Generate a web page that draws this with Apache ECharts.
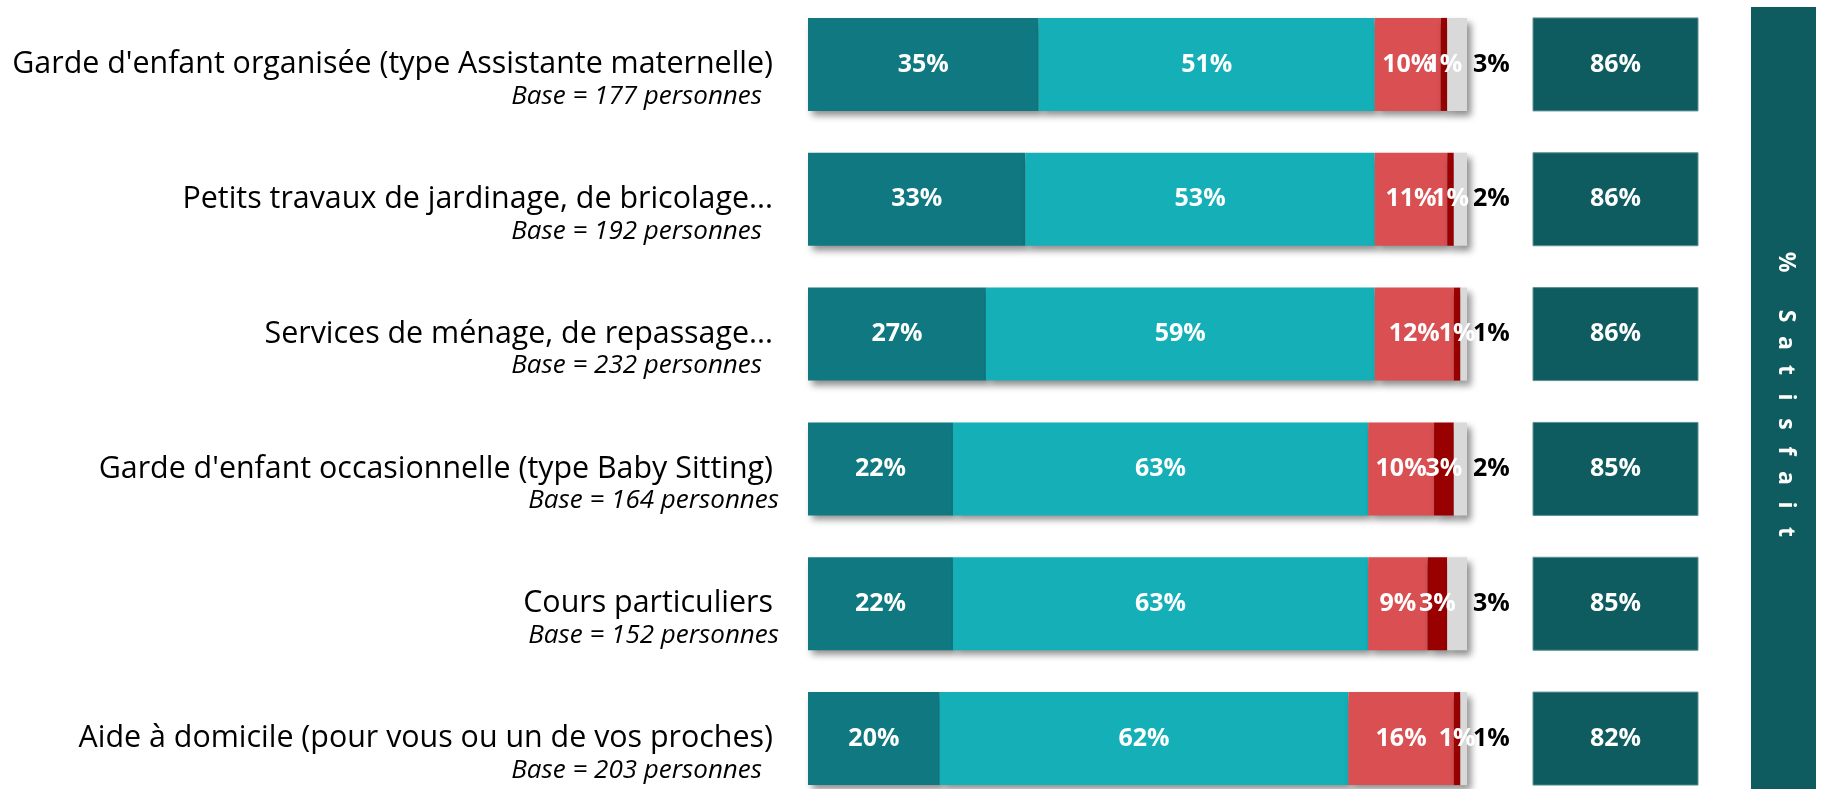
<!DOCTYPE html>
<html>
<head>
<meta charset="utf-8">
<script src="https://cdn.jsdelivr.net/npm/echarts/dist/echarts.min.js"></script>
<style>
  html, body { margin: 0; padding: 0; background: #fff; }
  #chart { width: 1825px; height: 789px; }
</style>
</head>
<body>
<div id="chart"></div>
<script>
  // services évalués (de haut en bas)
  var categories = [
    "Garde d'enfant organisée (type Assistante maternelle)",
    'Petits travaux de jardinage, de bricolage...',
    'Services de ménage, de repassage...',
    "Garde d'enfant occasionnelle (type Baby Sitting)",
    'Cours particuliers',
    'Aide à domicile (pour vous ou un de vos proches)'
  ]
  var bases = [177, 192, 232, 164, 152, 203]

  var tresSatisfait = [35, 33, 27, 22, 22, 20]
  var plutotSatisfait = [51, 53, 59, 63, 63, 62]
  var plutotPasSatisfait = [10, 11, 12, 10, 9, 16]
  var pasDuToutSatisfait = [1, 1, 1, 3, 3, 1]
  var nsp = [3, 2, 1, 2, 3, 1]
  var satisfait = [86, 86, 86, 85, 85, 82]

  // the "Base" line sits a bit further right on two rows
  var baseStyle = ['b', 'b', 'b', 'c', 'c', 'b']

  var FONT = '"Open Sans", "Noto Sans", sans-serif'
  var BAR_H = 93
  var shadow = {
    shadowBlur: 7,
    shadowColor: 'rgba(0,0,0,0.45)',
    shadowOffsetX: 4,
    shadowOffsetY: 5
  }

  function segment(name, data, color, labelColor, position) {
    return {
      name: name,
      type: 'bar',
      stack: 'total',
      barWidth: BAR_H,
      data: data,
      itemStyle: Object.assign({ color: color }, shadow),
      label: {
        show: true,
        position: position || 'inside',
        distance: 6,
        formatter: '{c}%',
        color: labelColor,
        fontFamily: FONT,
        fontWeight: 'bold',
        fontSize: 25
      }
    }
  }

  function renderBox(params, api) {
    var cs = params.coordSys
    var cy = api.coord([0, api.value(1)])[1]
    return {
      type: 'rect',
      shape: { x: cs.x, y: cy - BAR_H / 2, width: cs.width, height: BAR_H },
      style: { fill: '#0e5c5f', stroke: '#5e9194', lineWidth: 1 },
      textContent: {
        style: {
          text: api.value(0) + '%',
          fill: '#fff',
          font: 'bold 25px ' + FONT
        }
      },
      textConfig: { position: 'inside' }
    }
  }

  var chart = echarts.init(document.getElementById('chart'), null, { renderer: 'canvas' })

  var letters = ['%', ' ', 'S', 'a', 't', 'i', 's', 'f', 'a', 'i', 't']

  chart.setOption({
    backgroundColor: '#fff',
    animation: false,
    grid: [
      { left: 808, width: 659, top: -3, height: 809, outerBoundsMode: 'none', containLabel: false },
      { left: 1533, width: 165, top: -3, height: 809, outerBoundsMode: 'none', containLabel: false }
    ],
    xAxis: [
      { gridIndex: 0, type: 'value', min: 0, max: 100, show: false },
      { gridIndex: 1, type: 'value', min: 0, max: 100, show: false }
    ],
    yAxis: [
      {
        gridIndex: 0,
        type: 'category',
        inverse: true,
        data: categories,
        axisLine: { show: false },
        axisTick: { show: false },
        axisLabel: {
          margin: 29,
          align: 'right',
          padding: [28, 0, 0, 0],
          formatter: function (value, index) {
            return '{a|' + value + '}\n{' + baseStyle[index] + '|Base = ' + bases[index] + ' personnes}'
          },
          rich: {
            a: { fontFamily: FONT, fontSize: 30.4, color: '#000', lineHeight: 36, padding: [0, 6, 0, 0] },
            b: { fontFamily: FONT, fontSize: 26, fontStyle: 'italic', color: '#000', lineHeight: 28, padding: [0, 17, 0, 0] },
            c: { fontFamily: FONT, fontSize: 26, fontStyle: 'italic', color: '#000', lineHeight: 28 }
          }
        }
      },
      {
        gridIndex: 1,
        type: 'category',
        inverse: true,
        data: categories,
        show: false
      }
    ],
    graphic: [
      {
        type: 'rect',
        shape: { x: 1751, y: 7, width: 65, height: 790 },
        style: { fill: '#0e5c5f' }
      },
      {
        type: 'text',
        x: 1786,
        y: 397,
        rotation: -Math.PI / 2,
        style: {
          text: letters.map(function (l) { return '{l|' + l + '}' }).join(''),
          rich: {
            l: { width: 27, align: 'center', fill: '#fff', font: 'bold 23px ' + FONT }
          },
          align: 'center',
          verticalAlign: 'middle',
          textAlign: 'center',
          textVerticalAlign: 'middle'
        }
      }
    ],
    series: [
      segment('Très satisfait', tresSatisfait, '#0f7880', '#fff'),
      segment('Plutôt satisfait', plutotSatisfait, '#14afb7', '#fff'),
      segment('Plutôt pas satisfait', plutotPasSatisfait, '#d94f52', '#fff'),
      segment('Pas du tout satisfait', pasDuToutSatisfait, '#990000', '#fff'),
      segment('NSP', nsp, '#d9d9d9', '#000', 'right'),
      {
        name: '% Satisfait',
        type: 'custom',
        xAxisIndex: 1,
        yAxisIndex: 1,
        data: satisfait.map(function (v, i) { return [v, i] }),
        encode: { x: 0, y: 1 },
        renderItem: renderBox
      }
    ]
  })
</script>
</body>
</html>
